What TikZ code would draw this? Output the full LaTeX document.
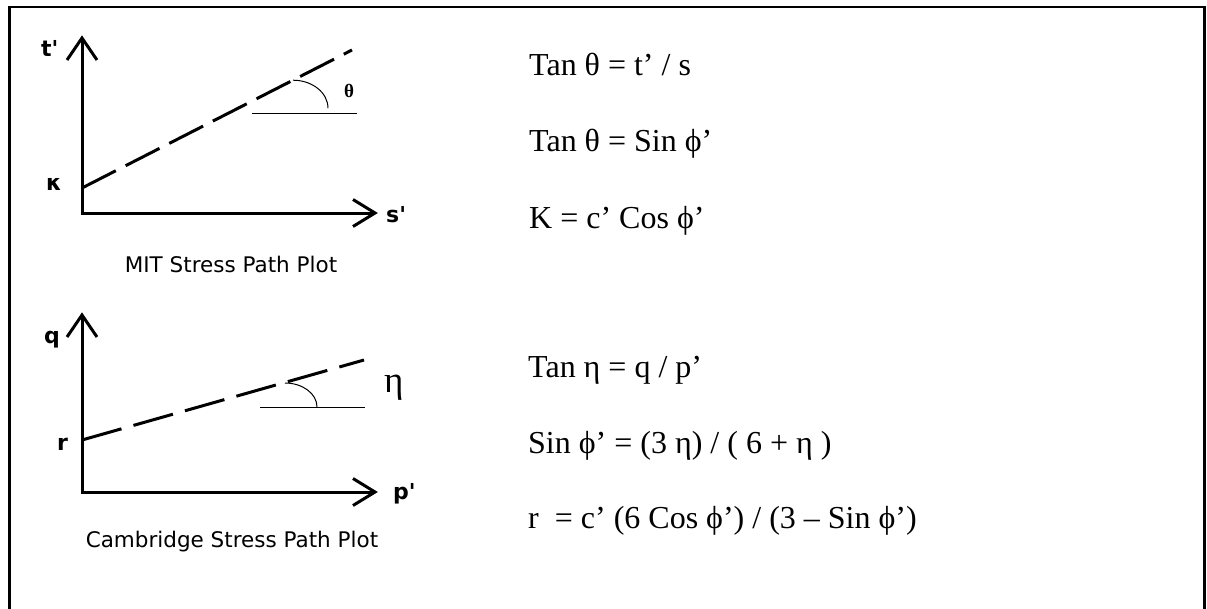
\documentclass[tikz,border=0pt]{standalone}
\usepackage{fontspec}
\usetikzlibrary{calc}
\setmainfont{Liberation Serif}
\newfontfamily\vsans{DejaVu Sans}
\begin{document}
\begin{tikzpicture}[x=1pt,y=-1pt,
  axis/.style={line width=3pt},
  dashline/.style={line width=3pt,dash pattern=on 38pt off 11pt},
  dashlineb/.style={line width=3pt,dash pattern=on 41pt off 12.5pt},
  thin/.style={line width=1pt},
  axlab/.style={font=\vsans\bfseries\fontsize{22}{22}\selectfont,inner sep=0pt},
  caption/.style={font=\vsans\fontsize{21.5}{21.5}\selectfont,inner sep=0pt,anchor=base},
  eq/.style={font=\fontsize{32}{32}\selectfont,inner sep=0pt,anchor=base west},
  angl/.style={font=\fontsize{37}{37}\selectfont,inner sep=0pt,anchor=base west}]
\useasboundingbox (0,0) rectangle (1207,608);
\fill[white] (0,0) rectangle (1207,608);
% frame
\draw[line width=2.5pt] (9.5,615) |- (1204.5,7) -- (1204.5,615);

% ---------- MIT plot ----------
\coordinate (O1) at (82,213);
\coordinate (Y1) at (82,38);
\coordinate (X1) at (375,213);
\draw[axis] (Y1) -- (O1) -- (X1);
\draw[axis] ($(Y1)+(-15,22)$) -- (Y1) -- ($(Y1)+(15,22)$);
\draw[axis] ($(X1)+(-22,-13.5)$) -- (X1) -- ($(X1)+(-22,13.5)$);
\coordinate (K1) at (82,188);
\coordinate (E1) at (352,50);
\draw[dashline] (K1) -- (E1);
\coordinate (A1) at (293,80.2);
\draw[thin] (A1) arc[start angle=-90,end angle=0,x radius=35,y radius=28];
\coordinate (H1a) at (252,113);
\coordinate (H1b) at (357,113);
\draw[thin] (H1a) -- (H1b);
\node[axlab,anchor=base west] (tlab) at (41,56) {t\char"27};
\node[axlab] (klab) at (54,184) {κ};
\node[axlab,anchor=base west] (slab) at (386,222) {s\char"27};
\node[font=\bfseries\fontsize{19}{19}\selectfont,inner sep=0pt] (thlab) at (349,91) {θ};
\node[caption] (cap1) at (231,272) {MIT Stress Path Plot};

% ---------- Cambridge plot ----------
\coordinate (O2) at (82,492);
\coordinate (Y2) at (82,315);
\coordinate (X2) at (375,492);
\draw[axis] (Y2) -- (O2) -- (X2);
\draw[axis] ($(Y2)+(-15,22)$) -- (Y2) -- ($(Y2)+(15,22)$);
\draw[axis] ($(X2)+(-22,-13.5)$) -- (X2) -- ($(X2)+(-22,13.5)$);
\coordinate (K2) at (82,440);
\coordinate (E2) at (364,360);
\draw[dashlineb] (K2) -- (E2);
\coordinate (A2) at (285,383);
\draw[thin] (A2) arc[start angle=-90,end angle=0,x radius=32,y radius=24];
\coordinate (H2a) at (260,407);
\coordinate (H2b) at (365,407);
\draw[thin] (H2a) -- (H2b);
\node[axlab,anchor=base west] (qlab) at (44,343) {q};
\node[axlab,anchor=base west] (rlab) at (57,450) {r};
\node[axlab,anchor=base west] (plab) at (393,499) {p\char"27};
\node[angl] (etalab) at (384,392) {η};
\node[caption] (cap2) at (232,547) {Cambridge Stress Path Plot};

% ---------- equations ----------
\node[eq] (e1) at (529,75) {Tan θ = t’ / s};
\node[eq] (e2) at (529,151) {Tan θ = Sin ϕ’};
\node[eq] (e3) at (529,228) {K = c’ Cos ϕ’};
\node[eq] (e4) at (528,377) {Tan η = q / p’};
\node[eq] (e5) at (528,453) {Sin ϕ’ = (3 η) / ( 6 + η )};
\node[eq] (e6) at (528,528) {r \ = c’ (6 Cos ϕ’) / (3 – Sin ϕ’)};
\end{tikzpicture}
\end{document}
